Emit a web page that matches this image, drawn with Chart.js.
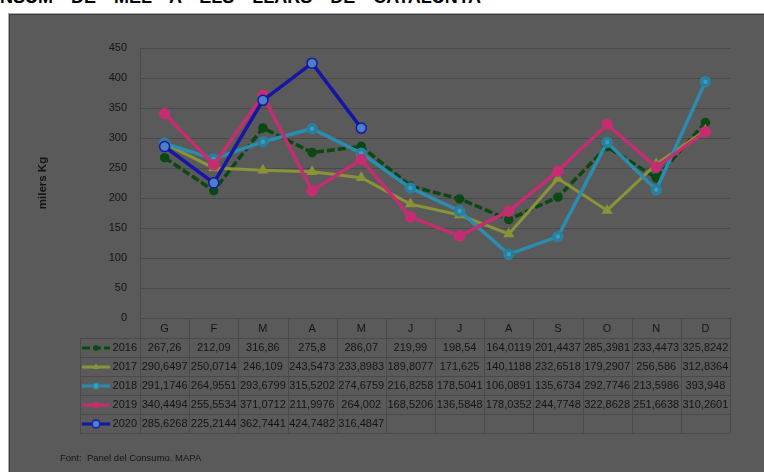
<!DOCTYPE html>
<html>
<head>
<meta charset="utf-8">
<title>Consum de mel</title>
<script src="https://cdn.jsdelivr.net/npm/chart.js@4.4.0/dist/chart.umd.min.js"></script>
<style>
  body { margin: 0; background: #fff; width: 764px; height: 472px; overflow: hidden; position: relative; font-family: 'Liberation Sans', Arial, sans-serif; }
  #title { position: absolute; left: 0; top: -12px; font-size: 18px; font-weight: bold; color: #000; word-spacing: 13px; white-space: nowrap; line-height: 18px; }
  #panel { position: absolute; left: 8px; top: 13px; right: -2px; bottom: -2px; background: #5a5a5a; border: 1px solid #a9a9a9; box-shadow: inset 1px 1px 0 #3c3c3c; }
  #chart { position: absolute; left: 0; top: 0; }
  #source { position: absolute; left: 60px; top: 452px; font-size: 9.5px; color: #151515; }
</style>
</head>
<body>
<div id="title">NSUM DE MEL A ELS LLARS DE CATALUNYA</div>
<div id="panel"></div>
<canvas id="chart" width="764" height="472"></canvas>
<div id="source">Font:&nbsp; Panel del Consumo. MAPA</div>
<script>
'use strict';

// months in catalan, one column per month in the table
let months = ['G', 'F', 'M', 'A', 'M', 'J', 'J', 'A', 'S', 'O', 'N', 'D'];
let years = ['2016', '2017', '2018', '2019', '2020'];

// milers de Kg
let values2016 = [267.26, 212.09, 316.86, 275.8, 286.07, 219.99, 198.54, 164.0119, 201.4437, 285.3981, 233.4473, 325.8242];
let values2017 = [290.6497, 250.0714, 246.109, 243.5473, 233.8983, 189.8077, 171.625, 140.1188, 232.6518, 179.2907, 256.586, 312.8364];
let values2018 = [291.1746, 264.9551, 293.6799, 315.5202, 274.6759, 216.8258, 178.5041, 106.0891, 135.6734, 292.7746, 213.5986, 393.948];
let values2019 = [340.4494, 255.5534, 371.0712, 211.9976, 264.002, 168.5206, 136.5848, 178.0352, 244.7748, 322.8628, 251.6638, 310.2601];
let values2020 = [285.6268, 225.2144, 362.7441, 424.7482, 316.4847];

let yTicks = [0, 50, 100, 150, 200, 250, 300, 350, 400, 450];

let textColor = '#141414';
let gridColor = '#4a4a4a';
let tableFont = "11px 'Liberation Sans', Arial, sans-serif";

function makeSeries(label, data, color, extra) {
  let ds = {
    label: label,
    data: data,
    borderColor: color,
    backgroundColor: color,
    pointBackgroundColor: color,
    pointBorderColor: color,
    borderWidth: 3.5,
    pointRadius: 3.5,
    pointStyle: 'circle',
    tension: 0
  };
  return Object.assign(ds, extra || {});
}

let datasets = [
  makeSeries(years[0], values2016, '#0b4814', { borderDash: [8, 3], order: 4, pointRadius: 3 }),
  makeSeries(years[1], values2017, '#8a9338', { order: 3, pointStyle: 'triangle', pointRadius: 3.5, borderWidth: 3 }),
  makeSeries(years[2], values2018, '#2a8db0', { order: 2, pointRadius: 4, pointBackgroundColor: '#3a9cc0', pointBorderColor: '#2a7e9e' }),
  makeSeries(years[3], values2019, '#c42d70', { order: 1, pointRadius: 4 }),
  makeSeries(years[4], values2020, '#1616a6', { order: 0, pointRadius: 5, pointBackgroundColor: '#4b80c6', pointBorderColor: '#1616a6', pointBorderWidth: 1.5 })
];

// data table under the plot, columns follow the x scale
const dataTable = {
  id: 'dataTable',
  afterDraw(chart) {
    let ctx = chart.ctx;
    let area = chart.chartArea;
    let xScale = chart.scales.x;
    let colW = (area.right - area.left) / months.length;
    let headerTop = area.bottom;
    let headerH = 20;
    let rowH = 19;
    let tableLeft = 80;
    let tableBottom = headerTop + headerH + rowH * years.length;

    ctx.save();
    ctx.strokeStyle = gridColor;
    ctx.lineWidth = 1;
    ctx.beginPath();
    ctx.moveTo(area.left, headerTop + 0.5);
    ctx.lineTo(area.right, headerTop + 0.5);
    for (let r = 0; r <= years.length; r++) {
      let y = Math.round(headerTop + headerH + r * rowH) + 0.5;
      ctx.moveTo(tableLeft, y);
      ctx.lineTo(area.right, y);
    }
    for (let c = 0; c <= months.length; c++) {
      let x = Math.round(area.left + c * colW) + 0.5;
      ctx.moveTo(x, headerTop);
      ctx.lineTo(x, tableBottom);
    }
    ctx.moveTo(tableLeft + 0.5, headerTop + headerH);
    ctx.lineTo(tableLeft + 0.5, tableBottom);
    ctx.stroke();

    ctx.font = tableFont;
    ctx.textBaseline = 'middle';
    for (let i = 0; i < chart.data.datasets.length; i++) {
      let ds = chart.data.datasets[i];
      let y = headerTop + headerH + i * rowH + rowH / 2 + 0.5;

      // legend key
      ctx.strokeStyle = ds.borderColor;
      ctx.lineWidth = 3;
      ctx.setLineDash(ds.borderDash || []);
      ctx.beginPath();
      ctx.moveTo(tableLeft + 2, y);
      ctx.lineTo(tableLeft + 30, y);
      ctx.stroke();
      ctx.setLineDash([]);
      ctx.fillStyle = ds.pointBackgroundColor;
      ctx.strokeStyle = ds.pointBorderColor;
      ctx.lineWidth = ds.pointBorderWidth || 1;
      Chart.helpers.drawPoint(ctx, { pointStyle: ds.pointStyle, radius: ds.pointRadius * 0.8, rotation: 0, borderWidth: ds.pointBorderWidth || 1 }, tableLeft + 16, y);

      ctx.fillStyle = textColor;
      ctx.textAlign = 'right';
      ctx.fillText(ds.label, area.left - 3, y);

      ctx.textAlign = 'center';
      for (let j = 0; j < ds.data.length; j++) {
        let txt = String(ds.data[j]).replace('.', ',');
        ctx.fillText(txt, xScale.getPixelForValue(j), y);
      }
    }
    ctx.restore();
  }
};

let chartConfig = {
  type: 'line',
  data: {
    labels: months,
    datasets: datasets
  },
  options: {
    responsive: false,
    animation: false,
    devicePixelRatio: 1,
    layout: {
      padding: { left: 36, top: 48, right: 34, bottom: 0 }
    },
    plugins: {
      legend: { display: false },
      tooltip: { enabled: false }
    },
    scales: {
      x: {
        offset: true,
        grid: { display: false, drawTicks: false },
        border: { display: false },
        ticks: {
          color: textColor,
          padding: 4,
          font: { size: 11, family: "'Liberation Sans', Arial, sans-serif" },
          maxRotation: 0,
          autoSkip: false
        },
        afterFit(scale) { scale.height = 154; }
      },
      y: {
        min: yTicks[0],
        max: yTicks[yTicks.length - 1],
        afterBuildTicks(scale) { scale.ticks = yTicks.map(v => ({ value: v })); },
        grid: { color: gridColor, drawTicks: false },
        border: { display: true, color: gridColor },
        ticks: {
          color: textColor,
          padding: 13,
          font: { size: 11, family: "'Liberation Sans', Arial, sans-serif" }
        },
        title: {
          display: true,
          text: 'milers Kg',
          color: textColor,
          padding: { top: 0, bottom: 0 },
          font: { size: 11.5, weight: 'bold', family: "'Liberation Sans', Arial, sans-serif" }
        },
        afterFit(scale) { scale.width = 104; }
      }
    }
  },
  plugins: [dataTable]
};

new Chart(document.getElementById('chart'), chartConfig);
</script>
</body>
</html>
